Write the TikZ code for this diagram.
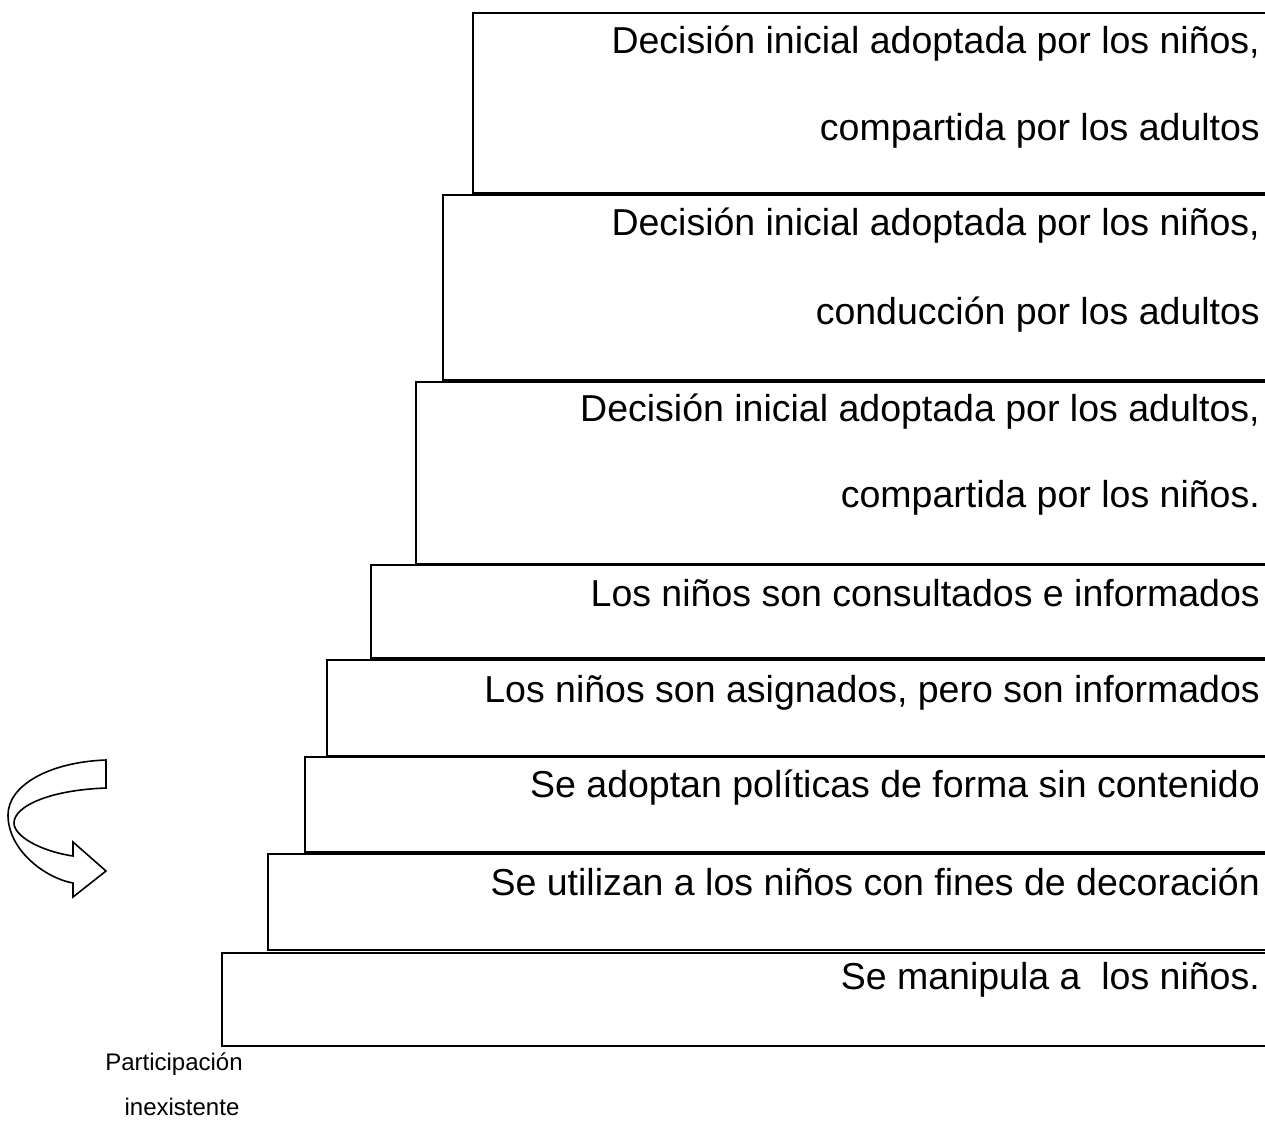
\documentclass[tikz,border=0pt]{standalone}
\usepackage{fontspec}
\setmainfont{Liberation Sans}
\begin{document}
\begin{tikzpicture}[x=1pt,y=-1pt,
  stepbox/.style={draw=black,line width=2.6pt},
  lbl/.style={anchor=base east,inner sep=0pt,font=\fontsize{37.5}{40}\selectfont},
  small/.style={anchor=base,inner sep=0pt,font=\fontsize{24}{26}\selectfont},
  curvearrow/.style={draw=black,line width=1.6pt,line join=miter,fill=white}]
\useasboundingbox (0,0) rectangle (1265,1127);
\clip (0,0) rectangle (1265,1127);
% steps (open on the right, beyond the picture edge)
\draw[stepbox] (1290,13) -- (473,13) -- (473,193) -- (1290,193);
\draw[stepbox] (1290,195) -- (443,195) -- (443,380) -- (1290,380);
\draw[stepbox] (1290,382) -- (416,382) -- (416,564) -- (1290,564);
\draw[stepbox] (1290,565) -- (371,565) -- (371,658) -- (1290,658);
\draw[stepbox] (1290,660) -- (327,660) -- (327,756) -- (1290,756);
\draw[stepbox] (1290,757) -- (305,757) -- (305,852) -- (1290,852);
\draw[stepbox] (1290,854) -- (268,854) -- (268,950) -- (1290,950);
\draw[stepbox] (1290,953) -- (222,953) -- (222,1046) -- (1290,1046);
% texts
\node[lbl] (t1a) at (1260,53) {Decisión inicial adoptada por los niños,};
\node[lbl] (t1b) at (1260,140) {compartida por los adultos};
\node[lbl] (t2a) at (1260,235) {Decisión inicial adoptada por los niños,};
\node[lbl] (t2b) at (1260,324) {conducción por los adultos};
\node[lbl] (t3a) at (1260,421) {Decisión inicial adoptada por los adultos,};
\node[lbl] (t3b) at (1260,507) {compartida por los niños.};
\node[lbl] (t4) at (1260,606) {Los niños son consultados e informados};
\node[lbl] (t5) at (1260,702) {Los niños son asignados, pero son informados};
\node[lbl] (t6) at (1260,797) {Se adoptan políticas de forma sin contenido};
\node[lbl] (t7) at (1260,895) {Se utilizan a los niños con fines de decoración};
\node[lbl] (t8) at (1260,989) {Se manipula a\ \ los niños.};
\node[small] (p1) at (174,1070) {Participación};
\node[small] (p2) at (182,1115) {inexistente};
% curved block arrow
\path[curvearrow] (106,760) .. controls (50,762) and (8,785) .. (8,815)
  .. controls (8,850) and (45,878) .. (73,883)
  -- (73,897) -- (106,871) -- (73,842) -- (73,856)
  .. controls (40,851) and (14,836) .. (14,823)
  .. controls (14,806) and (50,790) .. (106,788) -- cycle;
\end{tikzpicture}
\end{document}
